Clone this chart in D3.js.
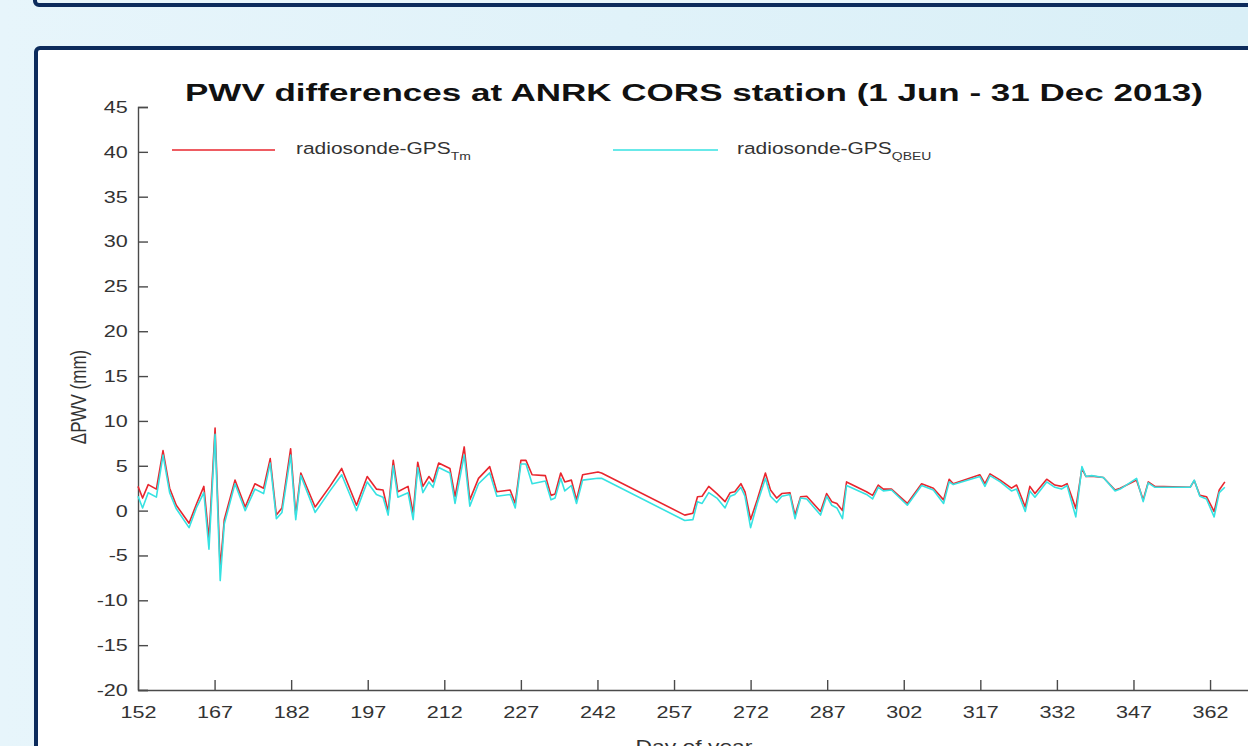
<!DOCTYPE html>
<html lang="en">
<head>
<meta charset="UTF-8">
<title>PWV differences at ANRK</title>
<script src="https://d3js.org/d3.v7.min.js"></script>
<style>
    body { margin: 0; overflow: hidden; }
    svg { display: block; font-family: "Liberation Sans", Arial, sans-serif; }
</style>
</head>
<body>
<svg width="1248" height="746"></svg>
<script>
    // day of year (2013) and PWV differences (mm)
    let days = [152.0,152.9,154.0,155.6,156.9,158.2,159.5,162.0,163.5,164.9,165.9,167.1,168.1,168.9,171.0,173.0,174.9,176.6,177.9,179.1,
        180.2,181.9,182.9,183.9,186.7,189.6,191.9,194.8,196.9,198.7,200.0,201.0,202.0,202.9,204.9,205.9,206.8,207.8,209.0,209.8,
        210.9,213.1,214.1,215.9,217.0,218.7,220.9,222.3,224.9,225.9,227.0,228.0,229.2,231.8,232.9,233.7,234.8,235.6,236.9,237.9,
        239.1,242.1,242.8,259.1,260.7,261.6,262.5,263.8,265.4,267.0,268.0,268.9,270.1,270.9,272.0,273.3,274.9,275.9,277.1,278.1,
        279.7,280.7,281.8,283.0,285.7,286.9,287.9,288.9,290.0,290.8,294.7,295.9,297.0,298.0,299.6,302.7,305.5,307.8,309.8,310.9,
        311.7,316.9,317.9,318.9,320.9,323.1,324.1,325.8,326.7,327.7,330.0,331.6,332.9,334.0,335.7,336.9,337.7,338.8,341.1,343.4,
        344.4,347.6,348.9,349.9,351.2,358.1,358.9,360.0,361.3,362.8,363.8,364.9];
    let tmDiff = [2.7,1.4,2.9,2.4,6.7,2.5,0.6,-1.4,0.8,2.7,-3.2,9.2,-6.5,-1.0,3.4,0.4,3.0,2.5,5.8,-0.5,
        0.3,6.9,-0.5,4.2,0.4,2.7,4.7,0.6,3.8,2.4,2.3,-0.1,5.6,2.1,2.7,-0.3,5.4,2.7,3.8,3.2,
        5.3,4.7,1.55,7.1,1.2,3.6,4.9,2.1,2.3,0.8,5.6,5.6,4.0,3.9,1.7,1.85,4.2,3.2,3.4,1.2,
        4.0,4.3,4.2,-0.5,-0.3,1.55,1.6,2.7,1.9,1.0,2.0,2.1,3.0,2.1,-1.0,1.2,4.2,2.3,1.4,1.9,
        2.0,-0.5,1.55,1.6,-0.1,1.9,1.0,0.8,0.0,3.2,2.1,1.7,2.85,2.4,2.4,0.8,3.0,2.5,1.2,3.5,
        3.0,4.0,3.0,4.1,3.4,2.5,2.85,0.4,2.7,1.9,3.5,2.85,2.7,3.0,0.25,4.7,3.8,3.85,3.7,2.3,
        2.5,3.4,1.2,3.2,2.7,2.6,3.35,1.7,1.55,-0.1,2.3,3.2];
    let qbeuDiff = [1.6,0.3,2.0,1.5,6.2,2.0,0.2,-1.9,0.4,2.0,-4.3,8.5,-7.8,-1.5,3.0,0.0,2.4,1.9,5.3,-0.9,
        -0.2,6.2,-1.0,3.9,-0.2,2.2,4.0,0.0,3.2,1.8,1.5,-0.5,5.0,1.5,2.0,-1.0,4.8,2.0,3.2,2.6,
        4.8,4.2,0.8,6.2,0.5,3.0,4.2,1.6,1.8,0.3,5.2,5.2,3.0,3.3,1.2,1.4,3.6,2.2,2.8,0.8,
        3.4,3.6,3.6,-1.1,-1.0,1.0,0.8,2.0,1.4,0.3,1.6,1.8,2.6,1.6,-1.9,0.8,3.6,1.6,0.9,1.6,
        1.8,-0.9,1.4,1.3,-0.5,1.6,0.6,0.3,-0.9,2.8,1.8,1.3,2.6,2.2,2.3,0.6,2.8,2.3,0.8,3.2,
        2.9,3.8,2.7,3.9,3.2,2.2,2.4,-0.1,2.2,1.5,3.2,2.6,2.4,2.8,-0.7,4.9,3.8,3.9,3.7,2.2,
        2.4,3.6,1.0,3.1,2.6,2.6,3.4,1.6,1.3,-0.7,2.0,2.6];
    let xTicks = [152,167,182,197,212,227,242,257,272,287,302,317,332,347,362];
    let yTicks = [-20,-15,-10,-5,0,5,10,15,20,25,30,35,40,45];

    let svg = d3.select('svg');
    let W = 1248, H = 746;
    let navy = '#0c2b5c';
    let sx = 1.27; // the figure is stretched horizontally

    // slide background
    let defs = svg.append('defs');
    let grad = defs.append('linearGradient').attr('id', 'bg').attr('x1', 0).attr('x2', 1).attr('y1', 0).attr('y2', 0);
    grad.append('stop').attr('offset', '0%').attr('stop-color', '#e7f5fb');
    grad.append('stop').attr('offset', '100%').attr('stop-color', '#d9eff7');
    svg.append('rect').attr('width', W).attr('height', H).attr('fill', 'url(#bg)');

    // panels
    svg.append('rect').attr('x', 35).attr('y', -30).attr('width', 1300).attr('height', 35)
        .attr('rx', 4).attr('fill', '#e9f6fb').attr('stroke', navy).attr('stroke-width', 4);
    svg.append('rect').attr('x', 36).attr('y', 48).attr('width', 1300).attr('height', 800)
        .attr('rx', 4).attr('fill', '#ffffff').attr('stroke', navy).attr('stroke-width', 4);

    let xScale = d3.scaleLinear().domain([152, 370]).range([138, 138 + 218 * 5.105]);
    let yScale = d3.scaleLinear().domain([-20, 45]).range([690, 107]);

    // title
    svg.append('text')
        .attr('x', 185).attr('y', 101)
        .attr('textLength', 1018).attr('lengthAdjust', 'spacingAndGlyphs')
        .style('font-size', '23.5px').style('font-weight', 'bold').attr('fill', '#111')
        .text('PWV differences at ANRK CORS station (1 Jun - 31 Dec 2013)');

    // axes
    let plain = function (d) { return String(d); };
    let xAxis = svg.append('g')
        .attr('transform', 'translate(0,' + yScale(-20) + ')')
        .call(d3.axisBottom(xScale).tickValues(xTicks).tickFormat(plain)
            .tickSize(-10).tickSizeOuter(0).tickPadding(16));
    let yAxis = svg.append('g')
        .attr('transform', 'translate(' + xScale(152) + ',0)')
        .call(d3.axisLeft(yScale).tickValues(yTicks).tickFormat(plain)
            .tickSize(-10).tickPadding(8));
    [xAxis, yAxis].forEach(function (a) {
        a.selectAll('path, line').attr('stroke', '#4a4a4a').attr('stroke-width', 1.4);
        a.selectAll('text').attr('fill', '#333').style('font-size', '17px')
            .style('font-family', '"Liberation Sans", Arial, sans-serif')
            .attr('transform', 'scale(' + sx + ',1)');
    });

    // axis labels
    svg.append('text')
        .attr('transform', 'translate(86,397) rotate(-90) scale(1,' + sx + ')')
        .attr('text-anchor', 'middle').attr('fill', '#333').style('font-size', '17px')
        .text('ΔPWV (mm)');
    svg.append('text')
        .attr('transform', 'translate(694,753) scale(' + sx + ',1)')
        .attr('text-anchor', 'middle').attr('fill', '#333').style('font-size', '18px')
        .text('Day of year');

    // lines
    let line = function (vals) {
        return d3.line().x(function (d, i) { return xScale(days[i]); })
            .y(function (d) { return yScale(d); })(vals);
    };
    svg.append('path').attr('d', line(tmDiff)).attr('fill', 'none')
        .attr('stroke', '#e8262e').attr('stroke-width', 1.6).attr('stroke-linejoin', 'round');
    svg.append('path').attr('d', line(qbeuDiff)).attr('fill', 'none')
        .attr('stroke', '#36e2e2').attr('stroke-width', 1.6).attr('stroke-linejoin', 'round');

    // legend
    let legend = [
        {x1: 172, x2: 275, tx: 296, color: '#e8262e', sub: 'Tm'},
        {x1: 613, x2: 718, tx: 737, color: '#36e2e2', sub: 'QBEU'}
    ];
    legend.forEach(function (l) {
        svg.append('line').attr('x1', l.x1).attr('x2', l.x2).attr('y1', 150).attr('y2', 150)
            .attr('stroke', l.color).attr('stroke-width', 1.6);
        let t = svg.append('text')
            .attr('transform', 'translate(' + l.tx + ',154) scale(' + sx + ',1)')
            .attr('fill', '#333').style('font-size', '16.5px');
        t.append('tspan').text('radiosonde-GPS');
        t.append('tspan').attr('dy', 6).style('font-size', '11px').text(l.sub);
    });
</script>
</body>
</html>
